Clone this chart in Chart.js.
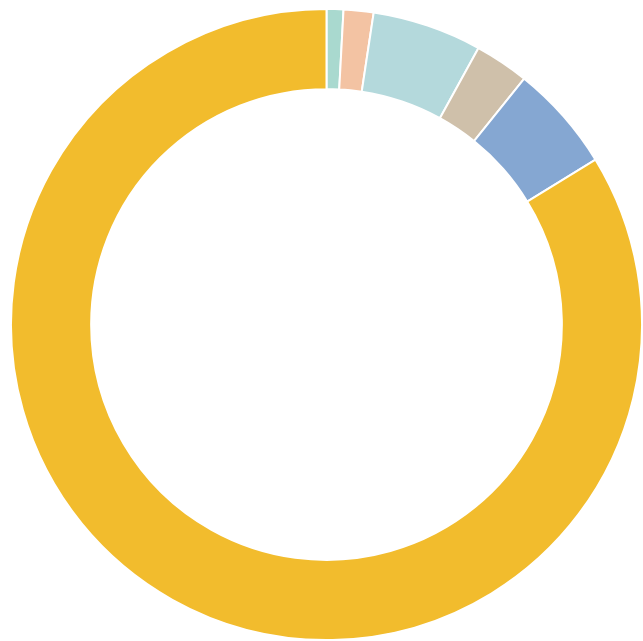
<!DOCTYPE html>
<html>
<head>
<meta charset="utf-8">
<script src="https://cdn.jsdelivr.net/npm/chart.js@4/dist/chart.umd.min.js"></script>
<style>
  html, body { margin: 0; padding: 0; background: #ffffff; }
  #wrap { width: 643px; height: 641px; position: relative; }
</style>
</head>
<body>
<div id="wrap"><canvas id="c" width="643" height="641"></canvas></div>
<script>
const categories = ["Category 1", "Category 2", "Category 3", "Category 4", "Category 5", "Category 6"];
const values = [0.86, 1.53, 5.61, 2.78, 5.47, 83.75];
const colors = ["#A9D9CF", "#F3C3A3", "#B4D9DC", "#CFC0AA", "#85A7D2", "#F2BC2D"];

new Chart(document.getElementById("c"), {
  type: "doughnut",
  data: {
    labels: categories,
    datasets: [{
      data: values,
      backgroundColor: colors,
      borderColor: "#ffffff",
      borderWidth: 2,
      hoverOffset: 0
    }]
  },
  options: {
    responsive: false,
    animation: false,
    cutout: "74.6%",
    rotation: 0,
    layout: { padding: { left: 10, right: 0, top: 8, bottom: 0 } },
    plugins: {
      legend: { display: false },
      tooltip: { enabled: false },
      title: { display: false }
    }
  }
});
</script>
</body>
</html>
